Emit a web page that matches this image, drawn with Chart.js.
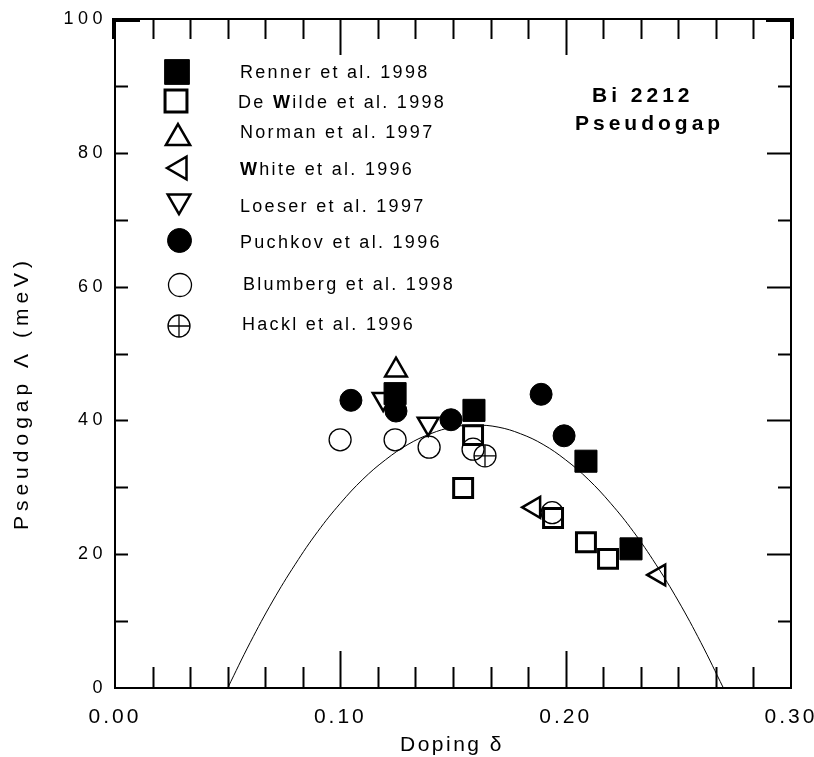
<!DOCTYPE html>
<html>
<head>
<meta charset="utf-8">
<script src="https://cdn.jsdelivr.net/npm/chart.js@4.4.1/dist/chart.umd.min.js"></script>
<style>
  html, body { margin: 0; padding: 0; background: #fff; }
  #wrap { width: 814px; height: 757px; position: relative; }
</style>
</head>
<body>
<div id="wrap"><canvas id="c"></canvas></div>
<script>
// Bi 2212 pseudogap versus hole doping, compiled from several experiments.
const xTickLabels = ['0.00', '0.10', '0.20', '0.30'];
const yTickLabels = ['0', '20', '40', '60', '80', '100'];

const rennerX   = [0.1243, 0.1593, 0.209, 0.229];
const rennerY   = [44.0, 41.5, 33.9, 20.8];
const deWildeX  = [0.1589, 0.1545, 0.1944, 0.209, 0.2188];
const deWildeY  = [37.8, 29.9, 25.4, 21.8, 19.3];
const normanX   = [0.1247];
const normanY   = [47.5];
const whiteX    = [0.186, 0.2415];
const whiteY    = [27.0, 16.9];
const loeserX   = [0.119, 0.139];
const loeserY   = [43.2, 39.5];
const puchkovX  = [0.1047, 0.1247, 0.1491, 0.1891, 0.1993];
const puchkovY  = [43.0, 41.4, 40.1, 43.9, 37.7];
const blumbergX = [0.0999, 0.1243, 0.1394, 0.1589, 0.194];
const blumbergY = [37.1, 37.1, 36.0, 35.7, 26.2];
const hacklX    = [0.1642];
const hacklY    = [34.7];

// dome-shaped guide line
const domeX = [0.05, 0.06, 0.07, 0.08, 0.09, 0.10, 0.11, 0.12, 0.13, 0.14, 0.15, 0.16,
               0.17, 0.18, 0.19, 0.20, 0.21, 0.22, 0.23, 0.24, 0.25, 0.26, 0.27];
const domeY = [0, 6.8, 13.0, 18.5, 23.4, 27.6, 31.2, 34.1, 36.4, 38.0, 39.0, 39.3,
               39.0, 38.0, 36.4, 34.1, 31.2, 27.6, 23.4, 18.5, 13.0, 6.8, 0];

const legendNames = [
  'Renner et al. 1998', 'De Wilde et al. 1998', 'Norman et al. 1997', 'White et al. 1996',
  'Loeser et al. 1997', 'Puchkov et al. 1996', 'Blumberg et al. 1998', 'Hackl et al. 1996'
];
const noteLines = ['Bi 2212', 'Pseudogap'];
const xTitle = 'Doping \u03b4';
const yTitle = 'Pseudogap \u039b (meV)';

const FONT = '"Liberation Sans", Arial, Helvetica, sans-serif';
const INK = '#000';
const NONE = 'rgba(0,0,0,0)';

const pts = (xs, ys) => xs.map((x, i) => ({ x, y: ys[i] }));

function marker(data, style, r, filled, bw, rot, order) {
  return {
    type: 'scatter',
    data,
    order,
    pointStyle: style,
    pointRadius: r,
    pointRotation: rot || 0,
    pointBackgroundColor: filled ? INK : NONE,
    pointBorderColor: INK,
    pointBorderWidth: bw,
    showLine: false
  };
}

const datasets = [
  marker(pts(rennerX, rennerY), 'rect', 15.6, true, 1, 0, 0),
  marker(pts(puchkovX, puchkovY), 'circle', 11, true, 1, 0, 1),
  marker(pts(deWildeX, deWildeY), 'rect', 13.4, false, 3, 0, 2),
  marker(pts(normanX, normanY), 'triangle', 12.5, false, 2.5, 0, 3),
  marker(pts(whiteX, whiteY), 'triangle', 12, false, 2.5, -90, 4),
  marker(pts(loeserX, loeserY), 'triangle', 12, false, 2.5, 180, 5),
  marker(pts(blumbergX, blumbergY), 'circle', 11, false, 1.3, 0, 6),
  marker(pts(hacklX, hacklY), 'circle', 11, false, 1.3, 0, 7),
  marker(pts(hacklX, hacklY), 'cross', 11, false, 1.3, 0, 8),
  {
    type: 'line',
    data: pts(domeX, domeY),
    order: 20,
    borderColor: INK,
    borderWidth: 1,
    pointRadius: 0,
    tension: 0.4,
    fill: false,
    showLine: true
  }
];

// legend glyph settings: style, radius, filled, border, rotation, x, y, text x, text baseline
const legendGlyphs = [
  ['rect', 17.5, true, 1, 0, 177, 72, 240, 78],
  ['rect', 15.5, false, 3, 0, 176, 101, 238, 108],
  ['triangle', 14, false, 2.5, 0, 178, 138, 240, 138],
  ['triangle', 13, false, 2.5, -90, 180, 168, 240, 175],
  ['triangle', 13, false, 2.5, 180, 179, 201, 240, 212],
  ['circle', 12, true, 1, 0, 179.5, 240.5, 240, 248],
  ['circle', 11.5, false, 1.3, 0, 180, 285, 243, 290],
  ['circle', 11, false, 1.3, 0, 179, 326, 242, 330]
];

// wider letter spacing on axis tick labels
const spacedTicks = {
  id: 'spacedTicks',
  beforeDraw(chart) {
    [['x', '3px'], ['y', '4.5px']].forEach(([id, sp]) => {
      const s = chart.scales[id];
      if (s && !s.__spaced) {
        const orig = s.drawLabels;
        s.drawLabels = function (area) {
          const c = this.ctx;
          c.save();
          c.letterSpacing = sp;
          orig.call(this, area);
          c.restore();
        };
        s.__spaced = true;
      }
    });
  }
};

// box frame with inward tick marks on all four sides
const frame = {
  id: 'frame',
  beforeDatasetsDraw(chart) {
    const { ctx, chartArea: a, scales: { x, y } } = chart;
    ctx.save();
    ctx.strokeStyle = INK;
    ctx.lineWidth = 2;
    ctx.lineCap = 'butt';
    ctx.strokeRect(a.left, a.top, a.right - a.left, a.bottom - a.top);
    ctx.beginPath();
    for (let i = 1; i < 18; i++) {
      const px = Math.round(x.getPixelForValue(i / 60)) + 0.5;
      const major = i % 6 === 0;
      ctx.moveTo(px, a.bottom);
      ctx.lineTo(px, a.bottom - (major ? 37 : 21));
      ctx.moveTo(px, a.top);
      ctx.lineTo(px, a.top + (major ? 36 : 20));
    }
    for (let v = 10; v < 100; v += 10) {
      const py = Math.round(y.getPixelForValue(v)) + 0.5;
      const major = v % 20 === 0;
      ctx.moveTo(a.left, py);
      ctx.lineTo(a.left + 13, py);
      ctx.moveTo(a.right, py);
      ctx.lineTo(a.right - (major ? 24 : 13), py);
    }
    ctx.stroke();
    // heavier corner strokes at the top
    ctx.lineWidth = 4;
    ctx.beginPath();
    ctx.moveTo(a.left + 25, a.top + 1); ctx.lineTo(a.left - 1, a.top + 1); ctx.lineTo(a.left - 1, a.top + 20);
    ctx.moveTo(a.right - 25, a.top + 1); ctx.lineTo(a.right + 1, a.top + 1); ctx.lineTo(a.right + 1, a.top + 20);
    ctx.stroke();
    ctx.restore();
  }
};

function glyph(ctx, style, r, filled, bw, rot, px, py) {
  ctx.fillStyle = filled ? INK : NONE;
  ctx.strokeStyle = INK;
  ctx.lineWidth = bw;
  Chart.helpers.drawPoint(ctx, { pointStyle: style, radius: r, rotation: rot, borderWidth: bw }, px, py);
}

// legend text, with the capital W set heavier as in the old screen font
function legendText(ctx, text, x, y) {
  const parts = text.split(/(W)/);
  let cx = x;
  parts.forEach((p) => {
    if (!p) return;
    ctx.font = (p === 'W' ? 'bold ' : '') + '18px ' + FONT;
    ctx.fillText(p, cx, y);
    cx += ctx.measureText(p).width;
  });
}

// legend, note and axis titles
const annotations = {
  id: 'annotations',
  afterDraw(chart) {
    const ctx = chart.ctx;
    ctx.save();
    legendGlyphs.forEach((g, i) => {
      const [style, r, filled, bw, rot, gx, gy, tx, ty] = g;
      glyph(ctx, style, r, filled, bw, rot, gx, gy);
      if (i === 7) glyph(ctx, 'cross', r, false, bw, 0, gx, gy);
      ctx.fillStyle = INK;
      ctx.letterSpacing = '2.3px';
      ctx.textAlign = 'left';
      ctx.textBaseline = 'alphabetic';
      legendText(ctx, legendNames[i], tx, ty);
    });

    ctx.font = 'bold 21px ' + FONT;
    ctx.letterSpacing = '4px';
    ctx.fillText(noteLines[0], 592, 102);
    ctx.fillText(noteLines[1], 575, 130);

    ctx.font = '21px ' + FONT;
    ctx.letterSpacing = '2.5px';
    ctx.textAlign = 'center';
    ctx.fillText(xTitle, 452, 751);

    ctx.translate(28, 393);
    ctx.rotate(-Math.PI / 2);
    ctx.font = '21px ' + FONT;
    ctx.letterSpacing = '5px';
    ctx.fillText(yTitle, 0, 0);
    ctx.restore();
  }
};

new Chart(document.getElementById('c'), {
  type: 'scatter',
  data: { datasets },
  options: {
    responsive: true,
    maintainAspectRatio: false,
    animation: false,
    events: [],
    layout: { padding: { top: 19, right: 23, bottom: 0, left: 0 } },
    plugins: { legend: { display: false }, tooltip: { enabled: false } },
    scales: {
      x: {
        type: 'linear',
        min: 0,
        max: 0.3,
        afterFit: (s) => { s.height = 69; s.paddingLeft = 0; s.paddingRight = 0; },
        grid: { display: false, drawTicks: false },
        border: { display: false },
        ticks: {
          stepSize: 0.1,
          padding: 17,
          color: INK,
          font: { family: FONT, size: 21 },
          callback: (v) => xTickLabels[Math.round(v * 10)]
        }
      },
      y: {
        type: 'linear',
        min: 0,
        max: 100,
        afterFit: (s) => { s.width = 115; s.paddingTop = 0; s.paddingBottom = 0; },
        grid: { display: false, drawTicks: false },
        border: { display: false },
        ticks: {
          stepSize: 20,
          padding: 8,
          color: INK,
          font: { family: FONT, size: 18 },
          callback: (v) => yTickLabels[Math.round(v / 20)]
        }
      }
    }
  },
  plugins: [spacedTicks, frame, annotations]
});
</script>
</body>
</html>
